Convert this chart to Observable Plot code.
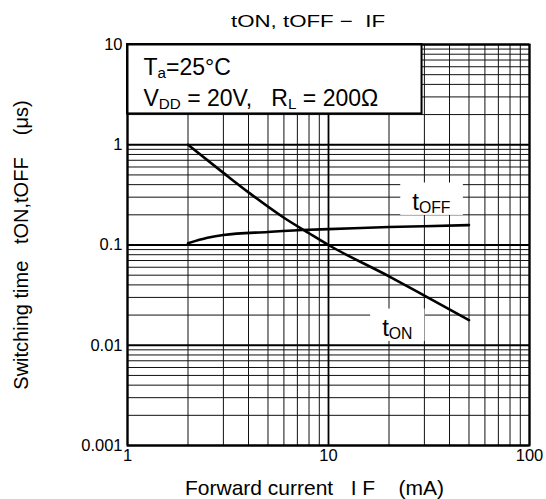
<!DOCTYPE html>
<html>
<head>
<meta charset="utf-8">
<script src="https://cdn.jsdelivr.net/npm/d3@7"></script>
<script src="https://cdn.jsdelivr.net/npm/@observablehq/plot@0.6"></script>
<style>
  body { margin: 0; background: #fff; }
  #chart svg { display: block; }
</style>
</head>
<body>
<div id="chart"></div>
<script>
// ---- data ----
const iF_on  = [2, 3, 4, 6, 8, 10, 20, 30, 50];                                 // mA
const tON    = [1.0, 0.524, 0.335, 0.187, 0.131, 0.1, 0.0487, 0.0313, 0.0178];   // us
const iF_off = [2, 2.5, 3, 5, 8, 10, 20, 30, 50];                                // mA
const tOFF   = [0.104, 0.118, 0.126, 0.135, 0.142, 0.144, 0.151, 0.154, 0.158]; // us

const xTicks = [1, 10, 100];
const yTicks = [0.001, 0.01, 0.1, 1, 10];

const titleText  = "tON, tOFF − \u00A0IF";
const xLabelText = "Forward current\u00A0\u00A0\u00A0I\u00A0F\u00A0\u00A0\u00A0\u00A0(mA)";
const yLabelText = "Switching time\u00A0\u00A0\u00A0tON,tOFF\u00A0\u00A0\u00A0\u00A0(μs)";
const condLine1  = "T_{a}=25°C";
const condLine2  = "V_{DD} = 20V,\u00A0\u00A0\u00A0R_{L} = 200Ω";

// curve labels (anchor in data units)
const curveLabels = [
  {text: "t_{OFF}", i: 32.5, t: 0.226},
  {text: "t_{ON}",  i: 22,   t: 0.0125}
];
// condition box extent (data units)
const condBox = [{x1: 1, x2: 29.2, y1: 2.03, y2: 10}];

// ---- derived tables ----
const onData  = iF_on.map((i, k) => ({i, t: tON[k]}));
const offData = iF_off.map((i, k) => ({i, t: tOFF[k]}));

const xMinor = [], yMinor = [];
for (let e = 0; e <= 1; ++e) for (let k = 2; k <= 9; ++k) xMinor.push(k * 10 ** e);
for (let e = -3; e <= 0; ++e) for (let k = 2; k <= 9; ++k) yMinor.push(+(k * 10 ** e).toPrecision(3));

const fmt = d => String(d);
const FONT = "'Liberation Sans', Arial, Helvetica, sans-serif";

const chart = Plot.plot({
  width: 546,
  height: 499,
  marginLeft: 127,
  marginRight: 17,
  marginTop: 44,
  marginBottom: 54,
  style: {fontFamily: FONT, fontSize: "16.5px", color: "#000", background: "#fff"},
  x: {type: "log", domain: [1, 100], label: null},
  y: {type: "log", domain: [0.001, 10], label: null},
  marks: [
    Plot.ruleX(xMinor, {stroke: "#111", strokeWidth: 1}),
    Plot.ruleY(yMinor, {stroke: "#111", strokeWidth: 1}),
    Plot.ruleX(xTicks, {stroke: "#000", strokeWidth: 1.8}),
    Plot.ruleY(yTicks, {stroke: "#000", strokeWidth: 1.8}),
    Plot.rect(condBox, {x1: "x1", x2: "x2", y1: "y1", y2: "y2", fill: "#fff", stroke: "#000", strokeWidth: 2}),
    Plot.frame({stroke: "#000", strokeWidth: 2}),
    Plot.text([condLine1], {frameAnchor: "top-left", textAnchor: "start", lineAnchor: "bottom", dx: 16, dy: 30, fontSize: 23, fill: "#000"}),
    Plot.text([condLine2], {frameAnchor: "top-left", textAnchor: "start", lineAnchor: "bottom", dx: 16, dy: 61, fontSize: 23, fill: "#000"}),
    Plot.line(offData, {x: "i", y: "t", stroke: "#000", strokeWidth: 2.6, curve: "monotone-x"}),
    Plot.line(onData,  {x: "i", y: "t", stroke: "#000", strokeWidth: 2.6, curve: "monotone-x"}),
    Plot.text(curveLabels, {x: "i", y: "t", text: "text", lineAnchor: "bottom", textAnchor: "middle", fontSize: 24, fill: "#000"}),
    Plot.axisX({ticks: xTicks, tickFormat: fmt, tickSize: 0, tickPadding: 4, label: null, fontSize: 16.5}),
    Plot.axisY({ticks: yTicks, tickFormat: fmt, tickSize: 0, tickPadding: 5, label: null, fontSize: 16.5}),
    Plot.text([titleText], {frameAnchor: "top", textAnchor: "middle", lineAnchor: "bottom", dx: -20.5, dy: -17.3, fontSize: 17, fill: "#000"}),
    Plot.text([xLabelText], {frameAnchor: "bottom", textAnchor: "middle", lineAnchor: "bottom", dx: -14, dy: 49, fontSize: 21, fill: "#000"}),
    Plot.text([yLabelText], {frameAnchor: "left", textAnchor: "middle", rotate: -90, lineAnchor: "bottom", dx: -100, fontSize: 20, fill: "#000"})
  ]
});

document.getElementById("chart").appendChild(chart);

const NS = "http://www.w3.org/2000/svg";
const allTexts = [...chart.querySelectorAll("text")];
const labelSet = new Set(curveLabels.map(d => d.text));
const curveLabelEls = allTexts.filter(t => labelSet.has(t.textContent));
const titleEls = allTexts.filter(t => t.textContent === titleText);

// ---- subscripts: "_{...}" → smaller, lowered tspan ----
allTexts.forEach(t => {
  const holders = t.children.length ? [...t.querySelectorAll("tspan")] : [t];
  holders.forEach(h => {
    const s = h.textContent;
    if (!s.includes("_{")) return;
    const fs = parseFloat(getComputedStyle(t).fontSize);
    h.textContent = "";
    let shifted = false;
    const add = (str, sub) => {
      const ts = document.createElementNS(NS, "tspan");
      ts.textContent = str;
      if (sub) { ts.setAttribute("font-size", (fs * 0.66).toFixed(1)); ts.setAttribute("dy", (fs * 0.14).toFixed(1)); }
      else if (shifted) ts.setAttribute("dy", (-fs * 0.14).toFixed(1));
      shifted = sub;
      h.appendChild(ts);
    };
    const re = /_\{([^}]*)\}/g;
    let last = 0, m;
    while ((m = re.exec(s))) {
      if (m.index > last) add(s.slice(last, m.index), false);
      add(m[1], true);
      last = re.lastIndex;
    }
    if (last < s.length) add(s.slice(last), false);
  });
});

// ---- white boxes behind curve labels ----
curveLabelEls.forEach(t => {
  const bb = t.getBBox();
  const r = document.createElementNS(NS, "rect");
  r.setAttribute("x", bb.x - 12);
  r.setAttribute("y", bb.y - 5);
  r.setAttribute("width", bb.width + 24);
  r.setAttribute("height", bb.height + 4);
  r.setAttribute("fill", "#fff");
  r.setAttribute("stroke", "none");
  const tr = t.getAttribute("transform");
  if (tr) r.setAttribute("transform", tr);
  t.parentNode.insertBefore(r, t);
});

// ---- title is drawn horizontally stretched in the reference ----
titleEls.forEach(t => {
  const target = t.children.length ? t.querySelector("tspan") : t;
  t.setAttribute("textLength", 154);
  t.setAttribute("lengthAdjust", "spacingAndGlyphs");
  if (target !== t) { target.setAttribute("textLength", 154); target.setAttribute("lengthAdjust", "spacingAndGlyphs"); }
});
</script>
</body>
</html>
